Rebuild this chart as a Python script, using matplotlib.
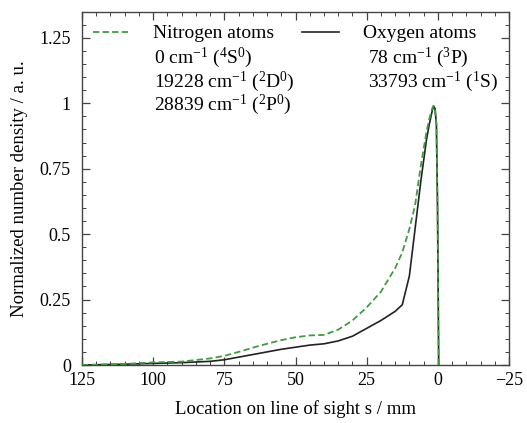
import matplotlib
matplotlib.use('Agg')
import matplotlib.pyplot as plt
from matplotlib.ticker import MultipleLocator, FuncFormatter

plt.rcParams['font.family'] = ['Liberation Serif', 'DejaVu Serif']
plt.rcParams['mathtext.fontset'] = 'custom'
plt.rcParams['mathtext.rm'] = 'Liberation Serif'
plt.rcParams['mathtext.it'] = 'Liberation Serif:italic'

# location on line of sight (mm) and normalized densities
s = [125, 110, 100, 90, 80, 75, 70, 62.5, 55, 50, 45, 40, 35, 30, 25, 20,
     15, 12.5, 10, 8, 6, 4, 3, 2, 1.5, 1, 0.5, 0.1, -0.3]
nitrogen = [0.0, 0.004, 0.01, 0.013, 0.025, 0.035, 0.05, 0.074, 0.095, 0.106,
            0.113, 0.115, 0.135, 0.17, 0.22, 0.28, 0.37, 0.43, 0.52, 0.61,
            0.76, 0.89, 0.94, 0.98, 0.99, 0.98, 0.92, 0.6, 0.0]
oxygen = [0.0, 0.003, 0.006, 0.009, 0.014, 0.02, 0.03, 0.045, 0.06, 0.068,
          0.076, 0.081, 0.092, 0.11, 0.14, 0.17, 0.205, 0.23, 0.34, 0.52,
          0.70, 0.86, 0.92, 0.97, 0.99, 0.98, 0.92, 0.6, 0.0]

n_labels = ['Nitrogen atoms', '0 cm$^{-1}$ ($^{4}$S$^{0}$)',
            '19228 cm$^{-1}$ ($^{2}$D$^{0}$)', '28839 cm$^{-1}$ ($^{2}$P$^{0}$)']
o_labels = ['Oxygen atoms', '78 cm$^{-1}$ ($^{3}$P)', '33793 cm$^{-1}$ ($^{1}$S)']

green = '#3c9e3c'
dark = '#222222'

fig = plt.figure(figsize=(5.27, 4.23), dpi=100)
ax = fig.add_axes([82/527, 1 - 365/423, 427/527, 353.3/423])

ax.plot(s, oxygen, color=dark, lw=1.2, zorder=2)
ax.plot(s, nitrogen, color=green, lw=1.3, dashes=(3.5, 1.8), zorder=3)

ax.set_xlim(125, -25)
ax.set_ylim(0, 1.35)
ax.xaxis.set_major_locator(MultipleLocator(25))
ax.xaxis.set_minor_locator(MultipleLocator(5))
ax.yaxis.set_major_locator(MultipleLocator(0.25))
ax.yaxis.set_minor_locator(MultipleLocator(0.05))
ax.yaxis.set_major_formatter(FuncFormatter(lambda v, p: ('%g' % v)))
ax.xaxis.set_major_formatter(FuncFormatter(lambda v, p: ('%g' % v).replace('-', '\u2212')))
ax.tick_params(which='both', direction='in', top=True, right=True, labelsize=13,
               color='#444444')
ax.tick_params(which='major', length=6, width=0.9)
ax.tick_params(which='minor', length=3, width=0.7)
ax.tick_params(axis='y', pad=8)
ax.tick_params(axis='x', pad=5)
for sp in ax.spines.values():
    sp.set_linewidth(1.0)
    sp.set_color('#444444')

ax.set_xlabel('Location on line of sight s / mm', fontsize=13.5, labelpad=8)
ax.set_ylabel('Normalized number density / a. u.', fontsize=13.5, labelpad=8)

# hand-made legend
ax.plot([0.026, 0.112], [0.942, 0.942], transform=ax.transAxes, color=green,
        lw=1.3, dashes=(3.5, 1.8))
ax.plot([0.515, 0.602], [0.942, 0.942], transform=ax.transAxes, color=dark, lw=1.2)
n_y = [0.925, 0.854, 0.788, 0.722]
for i, t in enumerate(n_labels):
    ax.text(0.166 if i == 0 else 0.169, n_y[i], t, transform=ax.transAxes,
            fontsize=14, va='baseline', ha='left')
for i, t in enumerate(o_labels):
    ax.text(0.658 if i == 0 else 0.670, n_y[i], t, transform=ax.transAxes,
            fontsize=14, va='baseline', ha='left')

fig.savefig('out.png', dpi=100)
